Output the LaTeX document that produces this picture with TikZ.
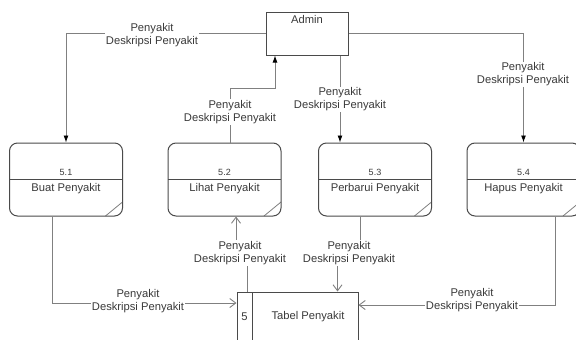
\documentclass[tikz,border=0pt]{standalone}
\usepackage{fontspec}
\setmainfont{Liberation Sans}
\usetikzlibrary{arrows.meta}
\definecolor{flowcol}{HTML}{808080}
\definecolor{boxcol}{HTML}{4A4A4A}
\definecolor{txtcol}{HTML}{3A3A3A}
\tikzset{
  base/.style={font=\fontsize{11.2}{13}\selectfont, text=txtcol},
  idtext/.style={font=\fontsize{9}{10}\selectfont, text=txtcol},
  procbox/.style={draw=boxcol, line width=1pt, rounded corners=8pt,
    minimum width=113pt, minimum height=73pt, inner sep=0pt,
    path picture={
      \draw[boxcol, line width=1pt] (path picture bounding box.west) -- (path picture bounding box.east);
      \draw[flowcol, line width=0.8pt] ([xshift=-17pt]path picture bounding box.south east)
        -- ([yshift=14pt]path picture bounding box.south east);
    }},
  extbox/.style={draw=boxcol, line width=1pt, minimum width=82pt, minimum height=43pt, inner sep=0pt},
  storebox/.style={draw=boxcol, line width=1pt, minimum width=121pt, minimum height=70pt, inner sep=0pt,
    path picture={
      \draw[boxcol, line width=1pt] ([xshift=15pt]path picture bounding box.north west)
        -- ([xshift=15pt]path picture bounding box.south west);
    }},
  flow/.style={draw=flowcol, line width=0.9pt},
  push/.style={flow, -{Latex[length=7pt, width=5pt, color=black]}},
  pull/.style={flow, -{Straight Barb[length=6pt, width=9pt]}},
  flowlabel/.style={base, fill=white, align=center, inner sep=1pt},
}
\begin{document}
\begin{tikzpicture}[x=1pt, y=-1pt]
  \fill[white] (0,0) rectangle (576,340);
  \useasboundingbox (0,0) rectangle (576,340);
  \clip (0,0) rectangle (576,340);

  % external entity
  \node[extbox] (admin) at (307,33.5) {};
  \node[base] (admintext) at ([yshift=-8pt]admin.north) {Admin};

  % processes
  \node[procbox] (p1) at (66,179.5) {};
  \node[procbox] (p2) at (224.5,179.5) {};
  \node[procbox] (p3) at (375,179.5) {};
  \node[procbox] (p4) at (523.5,179.5) {};
  \node[idtext] (p1id) at ([yshift=7pt]p1.center) {5.1};
  \node[idtext] (p2id) at ([yshift=7pt]p2.center) {5.2};
  \node[idtext] (p3id) at ([yshift=7pt]p3.center) {5.3};
  \node[idtext] (p4id) at ([yshift=7pt]p4.center) {5.4};
  \node[base] (p1name) at ([yshift=-9pt]p1.center) {Buat Penyakit};
  \node[base] (p2name) at ([yshift=-9pt]p2.center) {Lihat Penyakit};
  \node[base] (p3name) at ([yshift=-9pt]p3.center) {Perbarui Penyakit};
  \node[base] (p4name) at ([yshift=-9pt]p4.center) {Hapus Penyakit};

  % data store
  \node[storebox] (store) at (297.5,327) {};
  \node[base] (storeid) at (244.5,317) {5};
  \node[base] (storename) at (308,317) {Tabel Penyakit};

  % flows between Admin and the processes
  \draw[push] (admin.west) -| (p1.north);
  \draw[push] ([xshift=5.5pt]p2.north) -- ++(0,-54) -| ([xshift=-32pt]admin.south);
  \draw[push] ([xshift=33pt]admin.south) -- ([xshift=33pt]admin.south |- p3.north);
  \draw[push] (admin.east) -| (p4.north);

  % flows between the processes and the data store
  \draw[pull] ([xshift=-14pt]p1.south) |- (store.west |- 0,303);
  \draw[pull] ([xshift=11pt]store.north west) -- ++(0,-39) -| ([xshift=11.5pt]p2.south);
  \draw[pull] ([xshift=-15pt]p3.south) -- ++(0,37) -| ([xshift=-21pt]store.north east);
  \draw[pull] ([xshift=31.5pt]p4.south) |- (store.east |- 0,305);

  % flow labels
  \node[flowlabel] (l1) at (152,35) {Penyakit\\Deskripsi Penyakit};
  \node[flowlabel] (l2) at (230,112) {Penyakit\\Deskripsi Penyakit};
  \node[flowlabel] (l3) at (340,99.5) {Penyakit\\Deskripsi Penyakit};
  \node[flowlabel] (l4) at (523,74.5) {Penyakit\\Deskripsi Penyakit};
  \node[flowlabel] (l5) at (138,301.5) {Penyakit\\Deskripsi Penyakit};
  \node[flowlabel] (l6) at (240,253) {Penyakit\\Deskripsi Penyakit};
  \node[flowlabel] (l7) at (349,253) {Penyakit\\Deskripsi Penyakit};
  \node[flowlabel] (l8) at (472,300.5) {Penyakit\\Deskripsi Penyakit};
\end{tikzpicture}
\end{document}
